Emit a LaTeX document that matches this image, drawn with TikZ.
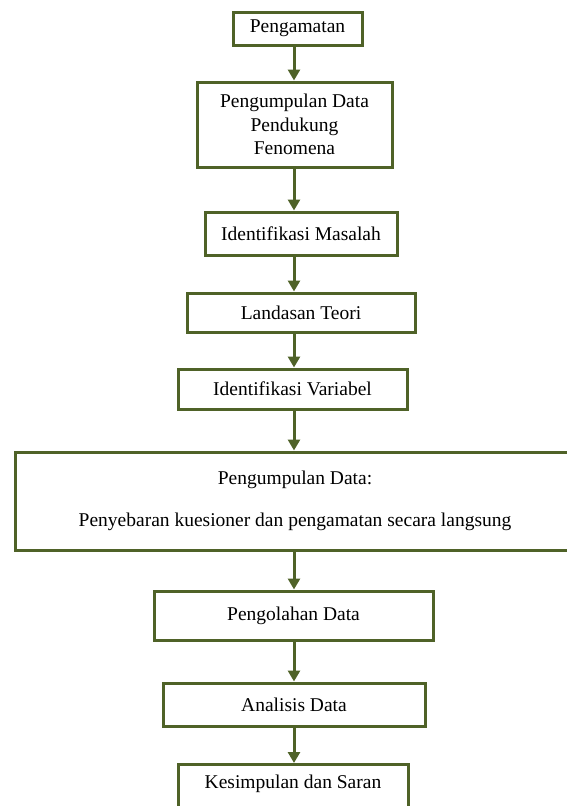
\documentclass[tikz,border=0pt]{standalone}
\usepackage{fontspec}
\setmainfont{Liberation Serif}
\usepackage{tikz}
\usetikzlibrary{arrows.meta}

\definecolor{hijau}{RGB}{79,98,40}

\begin{document}
\begin{tikzpicture}[x=1pt,y=-1pt,
  kotak/.style={draw=hijau,line width=3pt,fill=white,inner sep=0pt,
    font=\fontsize{19.5}{23.5}\selectfont,align=center},
  panah/.style={draw=hijau,line width=3pt,-{Triangle[width=12pt,length=11pt]}}]
\useasboundingbox (0,0) rectangle (567,806);
\clip (0,0) rectangle (567,806);
\coordinate (sumbu) at (294,0);
\node[kotak,minimum width=129pt,minimum height=33pt] (amat) at (297.5,28.5) {Pengamatan};
\node[kotak,minimum width=195pt,minimum height=85pt] (dukung) at (294.5,124.5) {Pengumpulan Data\\Pendukung\\Fenomena};
\node[kotak,minimum width=192pt,minimum height=43pt] (masalah) at (301,233.5) {Identifikasi Masalah};
\node[kotak,minimum width=228pt,minimum height=39pt] (teori) at (301,312.5) {Landasan Teori};
\node[kotak,minimum width=229pt,minimum height=40pt] (variabel) at (292.5,389) {Identifikasi Variabel};
\node[kotak,minimum width=560pt,minimum height=98pt] (kumpul) at (295,501) {Pengumpulan Data:\\[19pt]Penyebaran kuesioner dan pengamatan secara langsung};
\node[kotak,minimum width=279pt,minimum height=49pt] (olah) at (293.5,615.5) {Pengolahan Data};
\node[kotak,minimum width=262pt,minimum height=43pt] (analisis) at (294,704.5) {Analisis Data};
\node[kotak,minimum width=230pt,text height=24pt,text depth=40pt,anchor=north] (simpul) at (293,763) {Kesimpulan dan Saran};
\draw[panah] (amat.south -| sumbu) -- (dukung.north -| sumbu);
\draw[panah] (dukung.south -| sumbu) -- (masalah.north -| sumbu);
\draw[panah] (masalah.south -| sumbu) -- (teori.north -| sumbu);
\draw[panah] (teori.south -| sumbu) -- (variabel.north -| sumbu);
\draw[panah] (variabel.south -| sumbu) -- (kumpul.north -| sumbu);
\draw[panah] (kumpul.south -| sumbu) -- (olah.north -| sumbu);
\draw[panah] (olah.south -| sumbu) -- (analisis.north -| sumbu);
\draw[panah] (analisis.south -| sumbu) -- (simpul.north -| sumbu);
\end{tikzpicture}
\end{document}
